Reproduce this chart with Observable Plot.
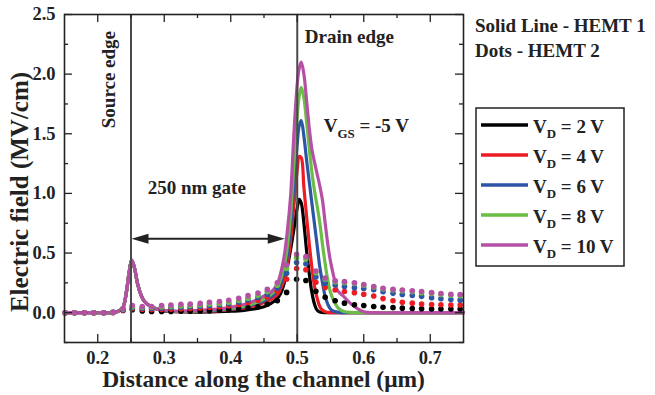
<!DOCTYPE html>
<html><head><meta charset="utf-8">
<script src="https://cdn.jsdelivr.net/npm/d3@7"></script>
<script src="https://cdn.jsdelivr.net/npm/@observablehq/plot@0.6"></script>
<style>body{margin:0;background:#fff;} #chart{width:655px;height:395px;}</style>
</head><body><div id="chart"></div>
<script>
// ---------- data ----------
const seriesNames = ["2 V", "4 V", "6 V", "8 V", "10 V"];
const seriesColors = ["#000000", "#ed1c24", "#2d55a6", "#6abd45", "#b550a5"];

// HEMT 1 (solid lines)
const solidX = [0.15, 0.20, 0.225, 0.232, 0.238, 0.243, 0.247, 0.251, 0.255, 0.26, 0.265, 0.27, 0.28, 0.29, 0.30, 0.32, 0.35, 0.38, 0.40, 0.42, 0.44, 0.45, 0.46, 0.47, 0.475, 0.48, 0.485, 0.49, 0.495, 0.50, 0.503, 0.506, 0.51, 0.514, 0.518, 0.522, 0.526, 0.53, 0.534, 0.538, 0.542, 0.546, 0.55, 0.555, 0.56, 0.565, 0.57, 0.58, 0.59, 0.60, 0.62, 0.65, 0.70, 0.75];
const solid2V  = [0, 0, 0.003, 0.015, 0.045, 0.17, 0.33, 0.44, 0.38, 0.24, 0.15, 0.095, 0.05, 0.028, 0.015, 0.008, 0.005, 0.008, 0.012, 0.02, 0.036, 0.05, 0.075, 0.12, 0.16, 0.24, 0.38, 0.53, 0.70, 0.88, 0.95, 0.92, 0.75, 0.52, 0.33, 0.17, 0.07, 0.02, 0.006, 0.002, 0, 0, 0, 0, 0, 0, 0, 0, 0, 0, 0, 0, 0, 0];
const solid4V  = [0, 0, 0.003, 0.015, 0.045, 0.17, 0.33, 0.44, 0.38, 0.24, 0.15, 0.095, 0.05, 0.029, 0.016, 0.009, 0.009, 0.015, 0.025, 0.04, 0.065, 0.085, 0.11, 0.15, 0.20, 0.27, 0.40, 0.60, 0.90, 1.20, 1.31, 1.30, 1.05, 0.81, 0.58, 0.38, 0.22, 0.12, 0.05, 0.02, 0.008, 0.003, 0, 0, 0, 0, 0, 0, 0, 0, 0, 0, 0, 0];
const solid6V  = [0, 0, 0.003, 0.015, 0.045, 0.17, 0.33, 0.44, 0.38, 0.24, 0.15, 0.095, 0.05, 0.029, 0.017, 0.01, 0.012, 0.02, 0.03, 0.048, 0.08, 0.10, 0.13, 0.18, 0.24, 0.33, 0.48, 0.72, 1.08, 1.42, 1.57, 1.61, 1.48, 1.28, 1.10, 0.92, 0.74, 0.56, 0.38, 0.25, 0.135, 0.07, 0.03, 0.012, 0.005, 0, 0, 0, 0, 0, 0, 0, 0, 0];
const solid8V  = [0, 0, 0.003, 0.015, 0.045, 0.17, 0.33, 0.44, 0.38, 0.24, 0.15, 0.095, 0.05, 0.03, 0.018, 0.011, 0.015, 0.025, 0.035, 0.055, 0.09, 0.115, 0.15, 0.21, 0.28, 0.38, 0.55, 0.82, 1.25, 1.65, 1.82, 1.89, 1.80, 1.60, 1.38, 1.18, 1.02, 0.89, 0.75, 0.57, 0.41, 0.27, 0.17, 0.10, 0.05, 0.023, 0.01, 0.002, 0, 0, 0, 0, 0, 0];
const solid10V = [0, 0, 0.003, 0.015, 0.045, 0.17, 0.33, 0.44, 0.38, 0.24, 0.15, 0.095, 0.05, 0.03, 0.018, 0.012, 0.02, 0.03, 0.045, 0.068, 0.11, 0.14, 0.17, 0.24, 0.33, 0.46, 0.68, 0.98, 1.50, 1.92, 2.05, 2.10, 2.00, 1.78, 1.55, 1.37, 1.26, 1.16, 1.06, 0.94, 0.75, 0.57, 0.43, 0.30, 0.19, 0.16, 0.135, 0.078, 0.036, 0.008, 0, 0, 0, 0];

// HEMT 2 (dots)
const dotX = [0.151, 0.165, 0.180, 0.194, 0.209, 0.223, 0.238, 0.252, 0.267, 0.281, 0.296, 0.310, 0.325, 0.339, 0.354, 0.368, 0.383, 0.397, 0.412, 0.426, 0.441, 0.455, 0.470, 0.484, 0.499, 0.513, 0.528, 0.542, 0.557, 0.571, 0.586, 0.600, 0.615, 0.629, 0.644, 0.658, 0.673, 0.687, 0.702, 0.716, 0.731, 0.745];
const dots2V  = [0, 0, 0, 0, 0, 0.002, 0.018, 0.025, 0.015, 0.01, 0.01, 0.01, 0.012, 0.013, 0.015, 0.017, 0.02, 0.025, 0.03, 0.04, 0.05, 0.07, 0.10, 0.17, 0.28, 0.27, 0.18, 0.13, 0.10, 0.08, 0.067, 0.06, 0.052, 0.046, 0.042, 0.038, 0.035, 0.033, 0.031, 0.031, 0.031, 0.031];
const dots4V  = [0, 0, 0, 0, 0, 0.002, 0.02, 0.035, 0.028, 0.026, 0.028, 0.03, 0.032, 0.035, 0.04, 0.045, 0.05, 0.058, 0.068, 0.085, 0.105, 0.13, 0.18, 0.28, 0.37, 0.36, 0.255, 0.212, 0.19, 0.177, 0.168, 0.155, 0.14, 0.118, 0.10, 0.088, 0.08, 0.073, 0.069, 0.066, 0.065, 0.065];
const dots6V  = [0, 0, 0, 0, 0, 0.003, 0.025, 0.042, 0.037, 0.037, 0.04, 0.043, 0.046, 0.05, 0.054, 0.06, 0.066, 0.075, 0.088, 0.106, 0.128, 0.155, 0.205, 0.33, 0.42, 0.41, 0.30, 0.247, 0.233, 0.219, 0.21, 0.203, 0.192, 0.175, 0.162, 0.152, 0.145, 0.137, 0.125, 0.117, 0.11, 0.105];
const dots8V  = [0, 0, 0, 0, 0, 0.004, 0.03, 0.05, 0.045, 0.045, 0.05, 0.053, 0.057, 0.06, 0.065, 0.072, 0.078, 0.088, 0.102, 0.122, 0.145, 0.175, 0.23, 0.37, 0.46, 0.45, 0.335, 0.28, 0.26, 0.252, 0.245, 0.23, 0.215, 0.20, 0.19, 0.183, 0.175, 0.168, 0.16, 0.152, 0.146, 0.143];
const dots10V = [0, 0, 0, 0, 0, 0.005, 0.035, 0.06, 0.052, 0.052, 0.06, 0.065, 0.07, 0.073, 0.078, 0.087, 0.093, 0.104, 0.12, 0.143, 0.165, 0.195, 0.25, 0.40, 0.49, 0.47, 0.35, 0.29, 0.267, 0.26, 0.25, 0.235, 0.22, 0.205, 0.197, 0.19, 0.183, 0.177, 0.169, 0.16, 0.154, 0.152];

const xMajor = [0.2, 0.3, 0.4, 0.5, 0.6, 0.7];
const xMinor = [0.25, 0.35, 0.45, 0.55, 0.65];
const yMajor = [0, 0.5, 1.0, 1.5, 2.0, 2.5];
const yMinor = [-0.25, 0.25, 0.75, 1.25, 1.75, 2.25];
const edges = [0.25, 0.5];
const gateArrow = [0.25, 0.482];
const gateArrowY = 0.615;

// ---------- tables ----------
const solidSets = [solid2V, solid4V, solid6V, solid8V, solid10V];
const dotSets = [dots2V, dots4V, dots6V, dots8V, dots10V];
const solidRows = solidSets.flatMap((arr, i) => arr.map((v, j) => ({x: solidX[j], y: v, s: seriesNames[i]})));
const dotRows = dotSets.flatMap((arr, i) => arr.map((v, j) => ({x: dotX[j], y: v, s: seriesNames[i]})));

const W = 655, H = 395;
const mL = 64, mR = 192, mT = 14, mB = 53;
const iw = W - mL - mR, ih = H - mT - mB;
const FONT = "'Liberation Serif', 'Times New Roman', serif";

const plot = Plot.plot({
  width: W, height: H,
  marginLeft: mL, marginRight: mR, marginTop: mT, marginBottom: mB,
  style: {fontFamily: FONT, fontWeight: "bold", fontSize: "18.5px", background: "#fff", color: "#222"},
  x: {domain: [0.15, 0.75], ticks: xMajor, tickSize: 0, tickPadding: 8, tickFormat: d3.format(".1f"), label: null},
  y: {domain: [-0.25, 2.5], ticks: yMajor, tickSize: 0, tickPadding: 9, tickFormat: d3.format(".1f"), label: null},
  color: {domain: seriesNames, range: seriesColors},
  marks: [
    Plot.line(solidRows, {x: "x", y: "y", z: "s", stroke: "s", strokeWidth: 3.2, curve: "catmull-rom"}),
    Plot.dot(dotRows, {x: "x", y: "y", fill: "s", r: 2.8, stroke: "none"}),
    Plot.ruleX(edges, {x: d => d, stroke: "#4a4a4a", strokeWidth: 2}),
    Plot.tickX(xMajor, {x: d => d, insetTop: ih - 8, stroke: "#222", strokeWidth: 1.3}),
    Plot.tickX(xMajor, {x: d => d, insetBottom: ih - 8, stroke: "#222", strokeWidth: 1.3}),
    Plot.tickX(xMinor, {x: d => d, insetTop: ih - 4, stroke: "#222", strokeWidth: 1.3}),
    Plot.tickX(xMinor, {x: d => d, insetBottom: ih - 4, stroke: "#222", strokeWidth: 1.3}),
    Plot.tickY(yMajor, {y: d => d, insetRight: iw - 8, stroke: "#222", strokeWidth: 1.3}),
    Plot.tickY(yMajor, {y: d => d, insetLeft: iw - 8, stroke: "#222", strokeWidth: 1.3}),
    Plot.tickY(yMinor, {y: d => d, insetRight: iw - 4, stroke: "#222", strokeWidth: 1.3}),
    Plot.tickY(yMinor, {y: d => d, insetLeft: iw - 4, stroke: "#222", strokeWidth: 1.3}),
    Plot.frame({stroke: "#222", strokeWidth: 1.6})
  ]
});

document.getElementById("chart").appendChild(plot);
const xs = plot.scale("x"), ys = plot.scale("y");
const svg = d3.select(plot);
const tx = v => xs.apply(v), ty = v => ys.apply(v);

function label(g, x, y, parts, size, extra) {
  const t = g.append("text").attr("x", x).attr("y", y).attr("text-anchor", "start")
    .attr("font-family", FONT).attr("font-weight", "bold").attr("font-size", size).attr("fill", "#222");
  if (extra) extra(t);
  parts.forEach(p => {
    const s = t.append("tspan").text(p.t);
    if (p.sub) s.attr("font-size", size * 0.68).attr("dy", size * 0.3);
    if (p.up) s.attr("dy", -size * 0.3);
  });
  return t;
}

const ann = svg.append("g");
// axis titles
label(ann, mL + iw / 2, 387, [{t: "Distance along the channel (\u03bcm)"}], 23.5, t => t.attr("text-anchor", "middle"));
label(ann, 0, 0, [{t: "Electric field (MV/cm)"}], 25, t => t.attr("text-anchor", "middle").attr("transform", `translate(28,192) rotate(-90)`));

// annotations inside plot
label(ann, 0, 0, [{t: "Source edge"}], 19, t => t.attr("text-anchor", "middle").attr("transform", `translate(${tx(0.25) - 16},${ty(1.95)}) rotate(-90)`));
label(ann, tx(0.5) + 8, ty(2.257), [{t: "Drain edge"}], 19);
label(ann, tx(0.5406), ty(1.512), [{t: "V"}, {t: "GS", sub: true}, {t: " = -5 V", up: true}], 19);
label(ann, tx(0.2758), ty(0.992), [{t: "250 nm gate"}], 19);

// double arrow
const ay = ty(gateArrowY), ax1 = tx(gateArrow[0]) + 1, ax2 = tx(gateArrow[1]);
ann.append("line").attr("x1", ax1 + 10).attr("x2", ax2 - 10).attr("y1", ay).attr("y2", ay).attr("stroke", "#222").attr("stroke-width", 2);
ann.append("path").attr("d", `M${ax1},${ay} L${ax1 + 17},${ay - 5} L${ax1 + 17},${ay + 5} Z`).attr("fill", "#222");
ann.append("path").attr("d", `M${ax2},${ay} L${ax2 - 17},${ay - 5} L${ax2 - 17},${ay + 5} Z`).attr("fill", "#222");

// right side notes
label(ann, 475, 31.5, [{t: "Solid Line - HEMT 1"}], 19);
label(ann, 475, 56.5, [{t: "Dots - HEMT 2"}], 19);

// legend
const lg = svg.append("g");
lg.append("rect").attr("x", 476).attr("y", 108).attr("width", 148).attr("height", 158).attr("fill", "#fff").attr("stroke", "#222").attr("stroke-width", 1.5);
seriesNames.forEach((n, i) => {
  const yy = 125 + i * 30;
  lg.append("line").attr("x1", 481).attr("x2", 528).attr("y1", yy).attr("y2", yy).attr("stroke", seriesColors[i]).attr("stroke-width", 3.5);
  label(lg, 533, yy + 7.5, [{t: "V"}, {t: "D", sub: true}, {t: " = " + n, up: true}], 19);
});
</script>
</body></html>
